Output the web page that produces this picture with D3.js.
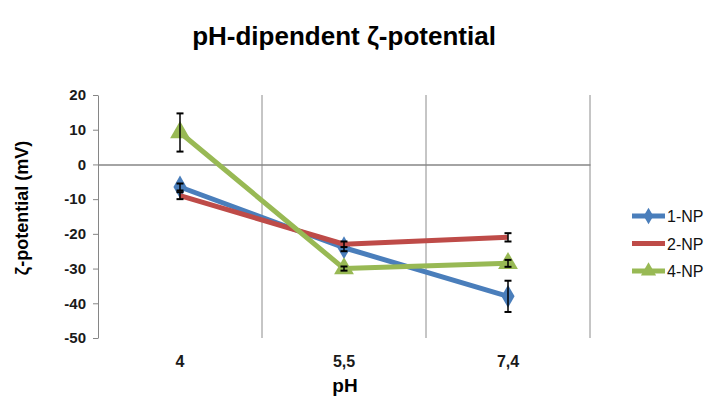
<!DOCTYPE html>
<html>
<head>
<meta charset="utf-8">
<script src="https://cdn.jsdelivr.net/npm/d3@7/dist/d3.min.js"></script>
<style>
  body { margin: 0; background: #fff; }
  svg { display: block; font-family: "Liberation Sans", Arial, sans-serif; }
</style>
</head>
<body>
<svg id="chart" width="711" height="401"></svg>
<script>
const categories = ["4", "5,5", "7,4"];
const yTicks = [20, 10, 0, -10, -20, -30, -40, -50];

const seriesNames = ["1-NP", "2-NP", "4-NP"];
const np1 = [-6.5, -24, -38];
const np2 = [-9, -23, -21];
const np4 = [9.2, -30, -28.5];
const np1Err = [1, 1, 4.5];
const np2Err = [1, 0.8, 1.2];
const np4Err = [5.5, 0.6, 1];

const colors = ["#4a7ebb", "#be4b48", "#98b954"];
const markers = ["diamond", "none", "triangle"];

const series = [
  {name: seriesNames[0], values: np1, err: np1Err, color: colors[0], marker: markers[0]},
  {name: seriesNames[1], values: np2, err: np2Err, color: colors[1], marker: markers[1]},
  {name: seriesNames[2], values: np4, err: np4Err, color: colors[2], marker: markers[2]},
];

const svg = d3.select("#chart");
const plot = {left: 98, right: 590, top: 95, bottom: 338};

const x = d3.scaleBand().domain(categories).range([plot.left, plot.right]);
const y = d3.scaleLinear().domain([-50, 20]).range([plot.bottom, plot.top]);

// title
svg.append("text")
  .attr("x", 344).attr("y", 45)
  .attr("text-anchor", "middle")
  .style("font-size", "26px").style("font-weight", "bold")
  .text("pH-dipendent ζ-potential");

// vertical gridlines at category boundaries
const bounds = categories.map(c => x(c) + x.bandwidth());
svg.append("g").selectAll("line").data(bounds).enter().append("line")
  .attr("x1", d => d).attr("x2", d => d)
  .attr("y1", plot.top).attr("y2", plot.bottom)
  .attr("stroke", "#8c8c8c").attr("stroke-width", 1);

// y axis
const yAxis = svg.append("g")
  .attr("transform", `translate(${plot.left},0)`)
  .call(d3.axisLeft(y).tickValues(yTicks).tickFormat(d => String(d))
    .tickSize(5).tickSizeOuter(0).tickPadding(7));
yAxis.select(".domain").attr("stroke", "#868686");
yAxis.selectAll(".tick line").attr("stroke", "#868686");
yAxis.selectAll(".tick text")
  .style("font-size", "15px").style("font-weight", "bold").attr("fill", "#1a1a1a")
  .style("font-family", "'Liberation Sans', Arial, sans-serif");

// x axis crossing at zero
const xAxis = svg.append("g")
  .attr("transform", `translate(0,${y(0)})`)
  .call(d3.axisBottom(x).tickSize(0).tickFormat(""));
xAxis.select(".domain").attr("stroke", "#868686").attr("stroke-width", 1.5);

// category labels below the plot
svg.append("g").selectAll("text").data(categories).enter().append("text")
  .attr("x", d => x(d) + x.bandwidth() / 2)
  .attr("y", 367)
  .attr("text-anchor", "middle")
  .style("font-size", "16px").style("font-weight", "bold").attr("fill", "#1a1a1a")
  .text(d => d);

// axis titles
svg.append("text")
  .attr("x", 345).attr("y", 392)
  .attr("text-anchor", "middle")
  .style("font-size", "19px").style("font-weight", "bold")
  .text("pH");

svg.append("text")
  .attr("transform", "translate(28,208) rotate(-90)")
  .attr("text-anchor", "middle")
  .style("font-size", "18px").style("font-weight", "bold")
  .text("ζ-potential (mV)");

const cx = i => x(categories[i]) + x.bandwidth() / 2;

const line = d3.line()
  .x((d, i) => cx(i))
  .y(d => y(d));

const symbolFor = m => m === "diamond" ? d3.symbolDiamond : d3.symbolTriangle;

series.forEach(s => {
  const g = svg.append("g");
  g.append("path")
    .datum(s.values)
    .attr("d", line)
    .attr("fill", "none")
    .attr("stroke", s.color)
    .attr("stroke-width", 5)
    .attr("stroke-linejoin", "round");

  if (s.marker !== "none") {
    g.selectAll(".mk").data(s.values).enter().append("path")
      .attr("transform", (d, i) => `translate(${cx(i)},${y(d)})`)
      .attr("d", d3.symbol().type(symbolFor(s.marker)).size(s.marker === "diamond" ? 150 : 170))
      .attr("fill", s.color);
  }

  // error bars
  const eb = g.selectAll(".eb").data(s.values).enter().append("g");
  eb.append("line")
    .attr("x1", (d, i) => cx(i)).attr("x2", (d, i) => cx(i))
    .attr("y1", (d, i) => y(d + s.err[i])).attr("y2", (d, i) => y(d - s.err[i]))
    .attr("stroke", "#000").attr("stroke-width", 1.5);
  [1, -1].forEach(sign => {
    eb.append("line")
      .attr("x1", (d, i) => cx(i) - 3.5).attr("x2", (d, i) => cx(i) + 3.5)
      .attr("y1", (d, i) => y(d + sign * s.err[i])).attr("y2", (d, i) => y(d + sign * s.err[i]))
      .attr("stroke", "#000").attr("stroke-width", 2);
  });
});

// legend
const legend = svg.append("g").selectAll("g").data(series).enter().append("g")
  .attr("transform", (d, i) => `translate(632,${216 + i * 27.5})`);
legend.append("line")
  .attr("x1", 0).attr("x2", 33).attr("y1", 0).attr("y2", 0)
  .attr("stroke", d => d.color).attr("stroke-width", 5);
legend.filter(d => d.marker !== "none").append("path")
  .attr("transform", "translate(16.5,0)")
  .attr("d", d => d3.symbol().type(symbolFor(d.marker)).size(d.marker === "diamond" ? 80 : 100)())
  .attr("fill", d => d.color);
legend.append("text")
  .attr("x", 35).attr("y", 6)
  .style("font-size", "16px").attr("fill", "#111")
  .text(d => d.name);
</script>
</body>
</html>
